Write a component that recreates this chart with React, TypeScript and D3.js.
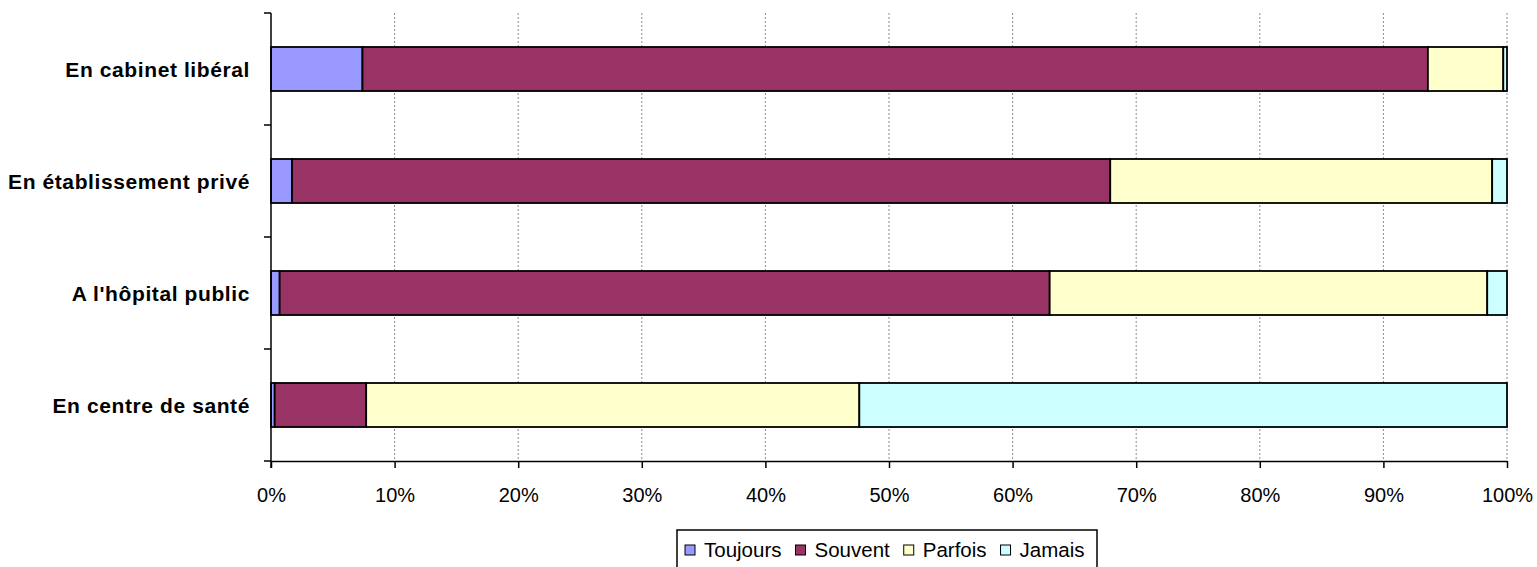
import React, { useRef, useEffect } from 'react';
import * as d3 from 'd3';

const categories = ['En cabinet libéral', 'En établissement privé', "A l'hôpital public", 'En centre de santé'];
const seriesNames = ['Toujours', 'Souvent', 'Parfois', 'Jamais'];
const toujours = [7.4, 1.7, 0.7, 0.3];
const souvent = [86.2, 66.2, 62.3, 7.4];
const parfois = [6.1, 30.9, 35.4, 39.9];
const jamais = [0.3, 1.2, 1.6, 52.4];
const seriesColors = ['#9999FF', '#993366', '#FFFFCC', '#CCFFFF'];
const xTicks = [0, 0.1, 0.2, 0.3, 0.4, 0.5, 0.6, 0.7, 0.8, 0.9, 1];

const width = 1537;
const height = 567;
const margin = { top: 13, right: 30, bottom: 106, left: 271 };
const font = '"Liberation Sans", Arial, sans-serif';

const App = () => {
  const ref = useRef(null);

  useEffect(() => {
    const svg = d3.select(ref.current);
    svg.selectAll('*').remove();

    const rows = categories.map((c, i) => ({
      name: c,
      Toujours: toujours[i] / 100,
      Souvent: souvent[i] / 100,
      Parfois: parfois[i] / 100,
      Jamais: jamais[i] / 100,
    }));
    const stacked = d3.stack().keys(seriesNames)(rows as any);

    const x = d3.scaleLinear().domain([0, 1]).range([margin.left, width - margin.right]);
    const y = d3
      .scaleBand()
      .domain(categories)
      .range([margin.top, height - margin.bottom])
      .paddingInner(0.607)
      .paddingOuter(0.3035);
    const y0 = margin.top;
    const y1 = height - margin.bottom;

    // gridlines
    svg
      .append('g')
      .selectAll('line')
      .data(xTicks.slice(1))
      .join('line')
      .attr('x1', (d) => x(d))
      .attr('x2', (d) => x(d))
      .attr('y1', y0)
      .attr('y2', y1)
      .attr('stroke', '#8c8c8c')
      .attr('stroke-width', 1)
      .attr('stroke-dasharray', '2,2');

    // bars
    svg
      .append('g')
      .selectAll('g')
      .data(stacked)
      .join('g')
      .attr('fill', (_, i) => seriesColors[i])
      .selectAll('rect')
      .data((s) => s)
      .join('rect')
      .attr('x', (d) => x(d[0]))
      .attr('width', (d) => x(d[1]) - x(d[0]))
      .attr('y', (d: any) => y(d.data.name) as number)
      .attr('height', y.bandwidth())
      .attr('stroke', '#000')
      .attr('stroke-width', 1.8);

    // x axis
    const xAxis = d3
      .axisBottom(x)
      .tickValues(xTicks)
      .tickFormat(d3.format('.0%'))
      .tickSize(7)
      .tickSizeOuter(0)
      .tickPadding(20);
    const gx = svg.append('g').attr('transform', `translate(0, ${y1})`).call(xAxis);
    gx.select('.domain').attr('stroke', '#000').attr('stroke-width', 1.5);
    gx.selectAll('.tick line').attr('stroke', '#000').attr('stroke-width', 1.5);
    gx.selectAll('.tick text')
      .attr('font-family', font)
      .attr('font-size', 20)
      .attr('fill', '#000');

    // y axis
    const step = y.step();
    const bounds = d3.range(categories.length + 1).map((i) => y0 + i * step);
    svg
      .append('line')
      .attr('x1', margin.left)
      .attr('x2', margin.left)
      .attr('y1', y0)
      .attr('y2', y1 + 7)
      .attr('stroke', '#000')
      .attr('stroke-width', 1.5);
    svg
      .append('g')
      .selectAll('line')
      .data(bounds)
      .join('line')
      .attr('x1', margin.left - 7)
      .attr('x2', margin.left)
      .attr('y1', (d) => d)
      .attr('y2', (d) => d)
      .attr('stroke', '#000')
      .attr('stroke-width', 1.5);
    svg
      .append('g')
      .selectAll('text')
      .data(categories)
      .join('text')
      .attr('x', 250)
      .attr('y', (d) => (y(d) as number) + y.bandwidth() / 2 + 7.5)
      .attr('text-anchor', 'end')
      .attr('font-family', font)
      .attr('font-size', 21)
      .attr('font-weight', 'bold')
      .attr('letter-spacing', 0.6)
      .text((d) => d);

    // legend
    const legend = svg.append('g');
    legend
      .append('rect')
      .attr('x', 677)
      .attr('y', 530)
      .attr('width', 420)
      .attr('height', 45)
      .attr('fill', '#fff')
      .attr('stroke', '#000')
      .attr('stroke-width', 1.5);
    let cx = 685;
    seriesNames.forEach((name, i) => {
      legend
        .append('rect')
        .attr('x', cx)
        .attr('y', 545)
        .attr('width', 10)
        .attr('height', 10)
        .attr('fill', seriesColors[i])
        .attr('stroke', '#000')
        .attr('stroke-width', 1);
      const t = legend
        .append('text')
        .attr('x', cx + 19)
        .attr('y', 557)
        .attr('font-family', font)
        .attr('font-size', 20.5)
        .text(name);
      const w = (t.node() as SVGTextElement).getComputedTextLength();
      cx = cx + 19 + w + 14;
    });
  }, []);

  return (
    <svg
      ref={ref}
      width={width}
      height={height}
      style={{ position: 'absolute', left: 0, top: 0, background: '#fff' }}
    />
  );
};

export default App;
